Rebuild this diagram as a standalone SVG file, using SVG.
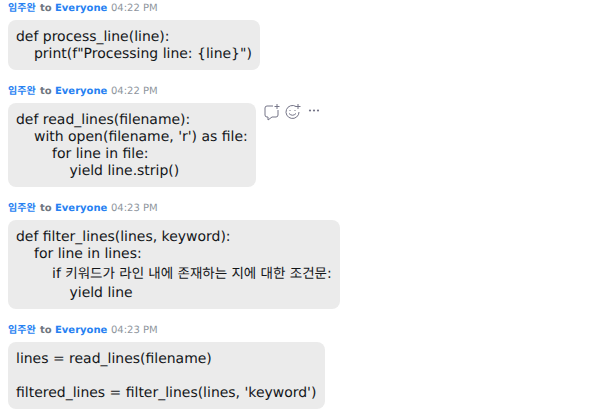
<svg xmlns="http://www.w3.org/2000/svg" width="615" height="420" viewBox="0 0 615 420">
<style>
text{font-family:"DejaVu Sans","Noto Sans CJK KR",sans-serif;white-space:pre;text-rendering:geometricPrecision}
.b{fill:#ebebeb}
.m{font-size:13.97px;fill:#131619}
.k{font-size:13.5px}
.n{font-size:10px;font-weight:700;fill:#2681f2}
.t{font-size:10px;font-weight:700;fill:#6e7680}
.h{font-size:10px;fill:#8e959d}
.i{fill:none;stroke:#747487;stroke-width:1}
</style>
<rect width="615" height="420" fill="#fff"/>
<g id="msg1">
<text x="8" y="11" class="n">임주완</text><text x="40" y="11" class="t">to</text><text x="55" y="11" class="n">Everyone</text><text x="111" y="11" class="h">04:22 PM</text>
<rect class="b" x="8" y="20" width="252" height="50" rx="8"/>
<text x="16" y="41" class="m">def process_line(line):</text>
<text x="34" y="58" class="m">print(f"Processing line: {line}")</text>
</g>
<g id="msg2">
<text x="8" y="94" class="n">임주완</text><text x="40" y="94" class="t">to</text><text x="55" y="94" class="n">Everyone</text><text x="111" y="94" class="h">04:22 PM</text>
<rect class="b" x="8" y="103" width="248" height="84" rx="8"/>
<text x="16" y="124" class="m">def read_lines(filename):</text>
<text x="34" y="141" class="m">with open(filename, 'r') as file:</text>
<text x="52" y="158" class="m">for line in file:</text>
<text x="69.500" y="175" class="m">yield line.strip()</text>
</g>
<g id="actions">
<path class="i" d="M273 106H267Q265 106 265 108V115Q265 117 267 117H268L268 120L272 117H276Q278 117 278 115V110"/>
<path class="i" d="M277 104V109M274.500 106.500H279.500"/>
<path class="i" d="M296 106.500A6.500 6.500 0 1 0 299 112"/>
<path class="i" d="M289 113.500Q292.500 117 296 113.500M289.500 110.500h1M294.500 110.500h1"/>
<path class="i" d="M298 104V109M295.500 106.500H300.500"/>
<circle cx="310" cy="110.500" r="1.100" fill="#747487"/><circle cx="314" cy="110.500" r="1.100" fill="#747487"/><circle cx="318" cy="110.500" r="1.100" fill="#747487"/>
</g>
<g id="msg3">
<text x="8" y="211" class="n">임주완</text><text x="40" y="211" class="t">to</text><text x="55" y="211" class="n">Everyone</text><text x="111" y="211" class="h">04:23 PM</text>
<rect class="b" x="8" y="220" width="332" height="89" rx="8"/>
<text x="16" y="241" class="m">def filter_lines(lines, keyword):</text>
<text x="34" y="258" class="m">for line in lines:</text>
<text x="52" y="278" class="m">if <tspan class="k">키워드가 라인 내에 존재하는 지에 대한 조건문</tspan>:</text>
<text x="69.500" y="297" class="m">yield line</text>
</g>
<g id="msg4">
<text x="8" y="333" class="n">임주완</text><text x="40" y="333" class="t">to</text><text x="55" y="333" class="n">Everyone</text><text x="111" y="333" class="h">04:23 PM</text>
<rect class="b" x="8" y="342" width="317" height="67" rx="8"/>
<text x="16" y="363" class="m">lines = read_lines(filename)</text>
<text x="16" y="397" class="m">filtered_lines = filter_lines(lines, 'keyword')</text>
</g>
</svg>
